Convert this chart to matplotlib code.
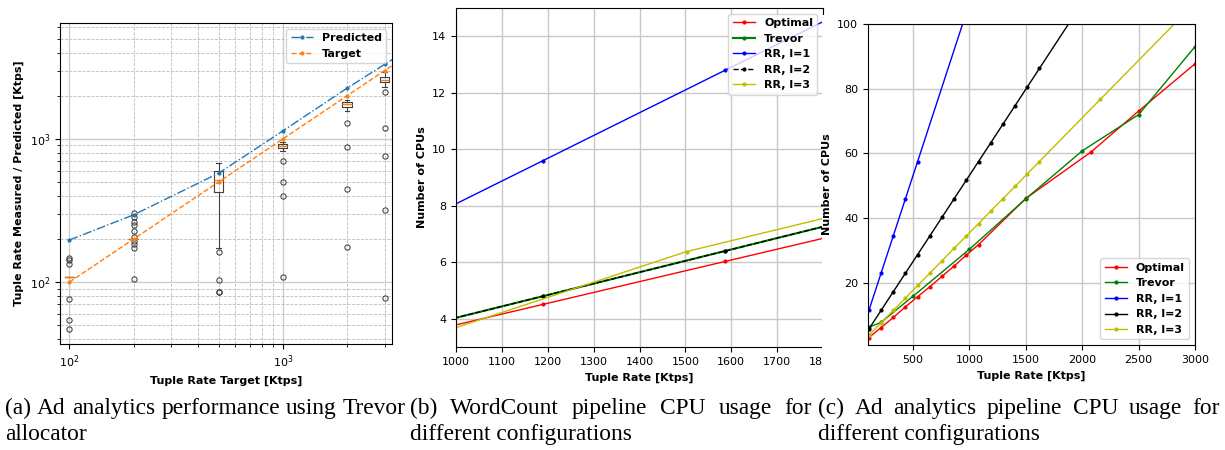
import numpy as np
import matplotlib
matplotlib.use("Agg")
import matplotlib.pyplot as plt
from matplotlib.patches import Rectangle

# (a) ad analytics, Trevor allocator
target_rate = [100, 200, 500, 1000, 2000, 3000]
line_x = [100, 200, 500, 1000, 2000, 3000, 4000]
predicted = [197, 295, 576, 1137, 2260, 3315, 4340]
target = [100, 200, 500, 1000, 2000, 3000, 4000]

box_med = [109, 200, 520, 890, 1740, 2600]
box_q1 = [109, 200, 428, 869, 1680, 2506]
box_q3 = [109, 200, 601, 923, 1803, 2716]
box_lo = [109, 200, 174, 828, 1567, 2290]
box_hi = [109, 200, 676, 955, 1870, 2953]
box_fliers = [
    [147, 143, 134, 76, 54, 47],
    [303, 287, 261, 251, 229, 206, 195, 184, 173, 105],
    [162, 104, 86, 85],
    [702, 503, 402, 108],
    [1287, 884, 446, 175],
    [2118, 1197, 764, 320, 78],
]

# (b) WordCount pipeline
wc_x = [793, 1190, 1587, 1984]
wc_optimal = [2.99, 4.51, 6.03, 7.55]
wc_trevor = [3.2, 4.8, 6.4, 8.0]
wc_rr1 = [6.4, 9.6, 12.8, 16.0]
wc_rr2 = [3.2, 4.8, 6.4, 8.0]
wc_rr3_x = [900, 1503, 2100]
wc_rr3 = [3.15, 6.38, 8.73]

# (c) Ad analytics pipeline
ad_opt_x = [108, 216, 324, 432, 540, 648, 756, 864, 972, 1080, 1500, 2080, 2500, 3000]
ad_optimal = [3.1, 6.2, 9.3, 12.6, 15.7, 18.8, 22.0, 25.2, 28.6, 31.8, 46.1, 60.5, 73.1, 87.7]
ad_trev_x = [108, 216, 500, 1000, 1500, 2000, 2500, 3000]
ad_trevor = [6.3, 7.8, 15.9, 30.4, 46.0, 60.8, 72.0, 93.0]
ad_rr1_x = [108, 216, 324, 432, 540, 1080]
ad_rr1 = [11.5, 23.0, 34.5, 46.0, 57.5, 115.0]
ad_rr2_x = [108, 216, 324, 432, 540, 648, 756, 864, 972, 1080, 1188, 1296, 1404, 1512, 1620, 2160]
ad_rr2 = [5.75, 11.5, 17.25, 23.0, 28.75, 34.5, 40.25, 46.0, 51.75, 57.5, 63.25, 69.0, 74.75, 80.5, 86.25, 115.0]
ad_rr3_x = [108, 216, 324, 432, 540, 648, 756, 864, 972, 1080, 1188, 1296, 1404, 1512, 1620, 2160, 3240]
ad_rr3 = [3.83, 7.67, 11.5, 15.3, 19.2, 23.0, 26.8, 30.7, 34.5, 38.3, 42.2, 46.0, 49.8, 53.7, 57.5, 76.7, 115.0]

captions = [
    (5, 406, "(a) Ad analytics performance using Trevor", "allocator"),
    (410, 812, "(b) WordCount pipeline CPU usage for", "different configurations"),
    (818, 1220, "(c) Ad analytics pipeline CPU usage for", "different configurations"),
]

W, H = 1225, 450
plt.rcParams['font.size'] = 8
fig = plt.figure(figsize=(W / 100, H / 100), dpi=100)

def px_axes(l, t, r, b):
    return fig.add_axes([l / W, 1 - b / H, (r - l) / W, (b - t) / H])

bold = dict(fontweight='bold', fontsize=8)

# ---- (a)
ax1 = px_axes(60, 23, 392, 344)
stats = []
for i in range(len(target_rate)):
    stats.append(dict(med=box_med[i], q1=box_q1[i], q3=box_q3[i],
                      whislo=box_lo[i], whishi=box_hi[i], fliers=box_fliers[i]))
ax1.bxp(stats, positions=target_rate, widths=[0.1 * p for p in target_rate],
        boxprops=dict(color='0.25', linewidth=0.8),
        whiskerprops=dict(color='0.25', linewidth=0.8),
        capprops=dict(color='0.25', linewidth=0.8),
        medianprops=dict(color='C1', linewidth=1.0),
        flierprops=dict(marker='o', markersize=3.8, markerfacecolor='none',
                        markeredgecolor='0.2', markeredgewidth=0.7),
        manage_ticks=False)
ax1.plot(line_x, predicted, '-.', marker='.', color='C0', lw=1, ms=4, label='Predicted')
ax1.plot(line_x, target, '--', marker='.', color='C1', lw=1, ms=4, label='Target')
ax1.set_xscale('log')
ax1.set_yscale('log')
ax1.set_xlim(90.4, 3250)
ax1.set_ylim(37, 6450)
ax1.grid(which='major', color='#cccccc', linestyle='-', linewidth=1.0)
ax1.grid(which='minor', color='#bbbbbb', linestyle='--', linewidth=0.6)
ax1.set_axisbelow(True)
ax1.set_xlabel("Tuple Rate Target [Ktps]", **bold)
ax1.set_ylabel("Tuple Rate Measured / Predicted [Ktps]", **bold)
ax1.legend(loc='upper right', prop=dict(weight='bold', size=8))

# ---- (b)
ax2 = px_axes(456, 8, 823, 347)
ax2.plot(wc_x, wc_optimal, '-', marker='.', color='r', lw=1, ms=4, label='Optimal')
ax2.plot(wc_x, wc_trevor, '-', marker='.', color='g', lw=1.5, ms=4, label='Trevor')
ax2.plot(wc_x, wc_rr1, '-', marker='.', color='b', lw=1, ms=4, label='RR, l=1')
ax2.plot(wc_x, wc_rr2, '--', marker='.', color='k', lw=1, ms=4, label='RR, l=2')
ax2.plot(wc_rr3_x, wc_rr3, '-', marker='.', color='y', lw=1, ms=4, label='RR, l=3')
ax2.set_xlim(1000, 1800)
ax2.set_ylim(3, 15)
ax2.grid(True, color='#c8c8c8', linewidth=1)
ax2.set_xlabel("Tuple Rate [Ktps]", **bold)
ax2.set_ylabel("Number of CPUs", **bold)
ax2.legend(loc='upper right', prop=dict(weight='bold', size=8))

# panel (c) sits over the right end of (b)
fig.patches.append(Rectangle((821.5 / W, 0), 1 - 821.5 / W, 1 - 15 / H,
                             transform=fig.transFigure, facecolor='white',
                             edgecolor='none', zorder=1))

# ---- (c)
ax3 = px_axes(868, 24, 1195, 345)
ax3.set_zorder(2)
ax3.plot(ad_opt_x, ad_optimal, '-', marker='.', color='r', lw=1, ms=4, label='Optimal')
ax3.plot(ad_trev_x, ad_trevor, '-', marker='.', color='g', lw=1, ms=4, label='Trevor')
ax3.plot(ad_rr1_x, ad_rr1, '-', marker='.', color='b', lw=1, ms=4, label='RR, l=1')
ax3.plot(ad_rr2_x, ad_rr2, '-', marker='.', color='k', lw=1, ms=4, label='RR, l=2')
ax3.plot(ad_rr3_x, ad_rr3, '-', marker='.', color='y', lw=1, ms=4, label='RR, l=3')
ax3.set_xlim(100, 3000)
ax3.set_ylim(0.8, 100)
ax3.grid(True, color='#c8c8c8', linewidth=1)
ax3.set_xlabel("Tuple Rate [Ktps]", **bold)
ax3.set_ylabel("Number of CPUs", **bold)
ax3.legend(loc='lower right', prop=dict(weight='bold', size=8))

# ---- captions, first line justified
serif = dict(family='Liberation Serif', fontsize=16.8)
renderer = fig.canvas.get_renderer()
for x0, x1, line1, line2 in captions:
    words = line1.split()
    texts = [fig.text(0, 36 / H, w, va='baseline', **serif) for w in words]
    widths = [t.get_window_extent(renderer).width for t in texts]
    gap = max((x1 - x0 - sum(widths)) / (len(words) - 1), 3)
    x = x0
    for t, w in zip(texts, widths):
        t.set_x(x / W)
        x += w + gap
    fig.text(x0 / W, 10 / H, line2, va='baseline', **serif)

fig.savefig("out.png", dpi=100)
